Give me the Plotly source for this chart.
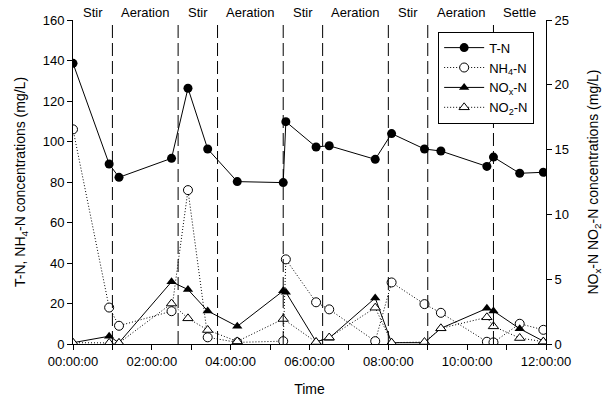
import plotly.graph_objects as go

# ---- data (hours since start) ----
time_h = [0, 0.917, 1.167, 2.5, 2.917, 3.417, 4.167, 5.333, 5.4, 6.167, 6.5,
          7.667, 8.083, 8.917, 9.333, 10.5, 10.667, 11.333, 11.933]
tn = [138.6, 88.9, 82.3, 91.7, 126.3, 96.3, 80.2, 79.7, 109.8, 97.3, 97.9,
      91.2, 103.9, 96.3, 95.3, 87.7, 92.3, 84.3, 84.8]
nh4 = [106.0, 18.0, 9.0, 16.2, 76.0, 3.3, 0.8, 1.4, 41.8, 20.6, 17.1,
       1.4, 30.4, 19.7, 15.4, 1.1, 0.8, 10.0, 7.0]
nox = [0.1, 0.6, 0.1, 4.8, 4.2, 2.55, 1.36, 4.1, 4.0, 0.18, 0.45,
       3.55, 0.1, 0.1, 1.21, 2.75, 2.55, 1.18, 0.22]
no2 = [0.1, 0.08, 0.08, 3.12, 1.98, 1.08, 0.2, 1.93, None, 0.15, 0.5,
       2.8, 0.1, 0.15, 1.21, 2.06, 1.36, 0.46, 0.18]

phase_bounds = [0, 1, 2.667, 3.667, 5.333, 6.333, 8, 9, 10.667, 12]
phase_names = ["Stir", "Aeration", "Stir", "Aeration", "Stir", "Aeration",
               "Stir", "Aeration", "Settle"]

x_tickvals = [0, 2, 4, 6, 8, 10, 12]
x_ticktext = ["00:00:00", "02:00:00", "04:00:00", "06:00:00", "08:00:00",
              "10:00:00", "12:00:00"]

FONT = "Arial, 'Liberation Sans', sans-serif"
DOT = "1px,2px"

fig = go.Figure()
fig.add_trace(go.Scatter(
    x=time_h, y=tn, name="T-N", mode="lines+markers",
    line=dict(color="black", width=1),
    marker=dict(symbol="circle", size=9, color="black"),
))
fig.add_trace(go.Scatter(
    x=time_h, y=nh4, name="NH<sub>4</sub>-N", mode="lines+markers",
    line=dict(color="black", width=1, dash=DOT),
    marker=dict(symbol="circle", size=9, color="white",
                line=dict(color="black", width=1)),
))
fig.add_trace(go.Scatter(
    x=time_h, y=nox, name="NO<sub>x</sub>-N", mode="lines+markers", yaxis="y2",
    line=dict(color="black", width=1),
    marker=dict(symbol="triangle-up", size=9, color="black"),
))
fig.add_trace(go.Scatter(
    x=time_h, y=no2, name="NO<sub>2</sub>-N", mode="lines+markers", yaxis="y2",
    connectgaps=True,
    line=dict(color="black", width=1, dash=DOT),
    marker=dict(symbol="triangle-up", size=9, color="white",
                line=dict(color="black", width=1)),
))

shapes = []
for b in phase_bounds[1:-1]:
    shapes.append(dict(type="line", xref="x", yref="paper", x0=b, x1=b,
                       y0=0, y1=1, line=dict(color="black", width=1,
                                             dash="13px,5px")))
annotations = []
for i, name in enumerate(phase_names):
    annotations.append(dict(
        x=(phase_bounds[i] + phase_bounds[i + 1]) / 2, xref="x",
        y=1, yref="paper", yanchor="bottom", yshift=-2, showarrow=False,
        text=name, font=dict(family=FONT, size=13, color="black")))

fig.update_layout(
    width=611, height=399,
    margin=dict(l=73, r=65, t=20, b=55, autoexpand=False),
    paper_bgcolor="white", plot_bgcolor="white",
    font=dict(family=FONT, size=13, color="black"),
    shapes=shapes, annotations=annotations,
    showlegend=True,
    legend=dict(x=0.772, y=0.964, xanchor="left", yanchor="top",
                bgcolor="white", bordercolor="black", borderwidth=1,
                font=dict(family=FONT, size=13, color="black"),
                tracegroupgap=0, itemwidth=40),
    xaxis=dict(range=[0, 12], tickvals=x_tickvals, ticktext=x_ticktext,
               automargin=False,
               showgrid=False, zeroline=False, showline=True,
               linecolor="black", linewidth=1, ticks="outside", ticklen=5,
               tickcolor="black",
               minor=dict(dtick=1, ticks="outside", ticklen=5,
                          tickcolor="black", showgrid=False),
               title=dict(text="Time", font=dict(size=14), standoff=16)),
    yaxis=dict(range=[0, 160], dtick=20, showgrid=False, zeroline=False,
               automargin=False,
               showline=True, linecolor="black", linewidth=1,
               ticks="outside", ticklen=5, tickcolor="black",
               title=dict(text="T-N, NH<sub>4</sub>-N concentrations (mg/L)",
                          font=dict(size=14), standoff=13)),
    yaxis2=dict(range=[0, 25], dtick=5, overlaying="y", side="right",
                automargin=False,
                showgrid=False, zeroline=False, showline=True,
                linecolor="black", linewidth=1, ticks="outside", ticklen=5,
                tickcolor="black",
                title=dict(text="NO<sub>x</sub>-N NO<sub>2</sub>-N concentrations (mg/L)",
                           font=dict(size=14), standoff=20)),
)

fig.write_html("out.html",
               config={"displayModeBar": False},
               post_script="document.body.style.margin='0';"
                           "document.body.style.overflow='hidden';")
